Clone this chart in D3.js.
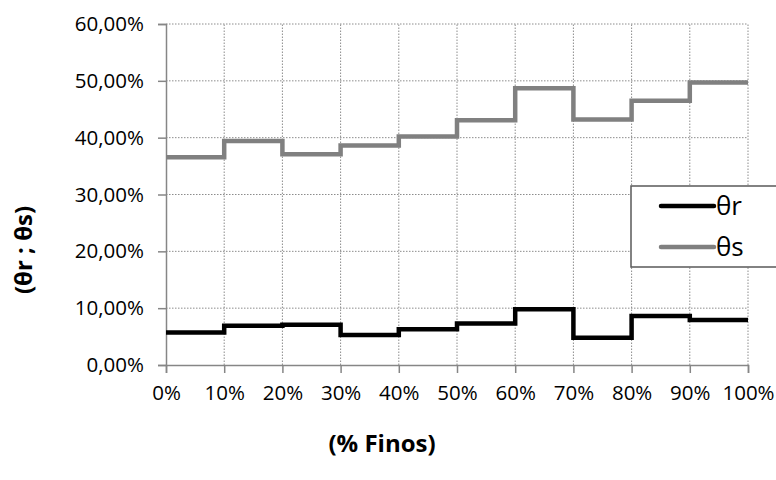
<!DOCTYPE html>
<html>
<head>
<meta charset="utf-8">
<script src="https://cdn.jsdelivr.net/npm/d3@7"></script>
<style>
  html, body { margin: 0; padding: 0; background: #fff; }
  svg text { font-family: "Open Sans", "Liberation Sans", sans-serif; }
</style>
</head>
<body>
<svg id="chart" width="776" height="480"></svg>
<script>
// Data
const finosTicks = [0, 10, 20, 30, 40, 50, 60, 70, 80, 90, 100];
const intervalStarts = [0, 10, 20, 30, 40, 50, 60, 70, 80, 90];
const thetaR = [5.7, 6.9, 7.1, 5.3, 6.3, 7.3, 9.8, 4.8, 8.6, 7.9];
const thetaS = [36.55, 39.4, 37.1, 38.6, 40.2, 43.05, 48.7, 43.2, 46.5, 49.7];
const yTicks = [0, 10, 20, 30, 40, 50, 60];
const seriesNames = ["θr", "θs"];
const seriesColors = ["#000000", "#808080"];

const svg = d3.select("#chart");
const margin = { left: 166, right: 28, top: 24, bottom: 115 };
const W = 776, H = 480;
const x = d3.scaleLinear().domain([0, 100]).range([margin.left, W - margin.right]);
const y = d3.scaleLinear().domain([0, 60]).range([H - margin.bottom, margin.top]);

// grid
const grid = svg.append("g");
grid.selectAll("line.h").data(yTicks.filter(d => d > 0)).enter().append("line")
  .attr("x1", x(0)).attr("x2", x(100))
  .attr("y1", d => y(d)).attr("y2", d => y(d))
  .attr("stroke", "#8c8c8c").attr("stroke-width", 1).attr("stroke-dasharray", "1.5,1.5");
grid.selectAll("line.v").data(finosTicks.filter(d => d > 0)).enter().append("line")
  .attr("x1", d => x(d)).attr("x2", d => x(d))
  .attr("y1", y(0)).attr("y2", y(60))
  .attr("stroke", "#8c8c8c").attr("stroke-width", 1).attr("stroke-dasharray", "1.5,1.5");

// axes
const yAxis = d3.axisLeft(y).tickValues(yTicks).tickSize(8).tickPadding(14)
  .tickFormat(d => d3.format(".2f")(d).replace(".", ",") + "%");
const gy = svg.append("g").attr("transform", `translate(${x(0)},0)`).call(yAxis);
const xAxis = d3.axisBottom(x).tickValues(finosTicks).tickSize(8).tickPadding(12)
  .tickFormat(d => d + "%");
const gx = svg.append("g").attr("transform", `translate(0,${y(0)})`).call(xAxis);
[gx, gy].forEach(g => {
  g.select(".domain").attr("stroke", "#868686").attr("stroke-width", 1.5);
  g.selectAll(".tick line").attr("stroke", "#868686").attr("stroke-width", 1.5);
  g.selectAll(".tick text").attr("fill", "#000").style("font-size", "20.5px");
});

// step lines
const stepLine = d3.line().x(d => x(d[0])).y(d => y(d[1])).curve(d3.curveStepAfter);
function pts(vals) {
  const p = intervalStarts.map((s, i) => [s, vals[i]]);
  p.push([100, vals[vals.length - 1]]);
  return p;
}
[thetaS, thetaR].forEach((vals, k) => {
  svg.append("path").datum(pts(vals))
    .attr("fill", "none")
    .attr("stroke", k === 0 ? seriesColors[1] : seriesColors[0])
    .attr("stroke-width", 4.5)
    .attr("stroke-linejoin", "miter")
    .attr("d", stepLine);
});

// legend
const lg = svg.append("g");
lg.append("rect").attr("x", 631).attr("y", 186).attr("width", 160).attr("height", 81)
  .attr("fill", "#fff").attr("stroke", "#595959").attr("stroke-width", 1.5);
seriesNames.forEach((n, i) => {
  const yy = 206 + i * 41;
  lg.append("line").attr("x1", 661).attr("x2", 714).attr("y1", yy).attr("y2", yy)
    .attr("stroke", seriesColors[i]).attr("stroke-width", 4.5).attr("stroke-linecap", "round");
  lg.append("text").attr("x", 716).attr("y", yy + 9).text(n)
    .style("font-size", "26px").attr("fill", "#000");
});

// axis titles
svg.append("text").attr("x", 382).attr("y", 452).attr("text-anchor", "middle")
  .style("font-size", "24px").style("font-weight", "bold").text("(% Finos)");
svg.append("text").attr("transform", "translate(32,250) rotate(-90)").attr("text-anchor", "middle")
  .style("font-size", "24px").style("font-weight", "bold").text("(θr ; θs)");
</script>
</body>
</html>
